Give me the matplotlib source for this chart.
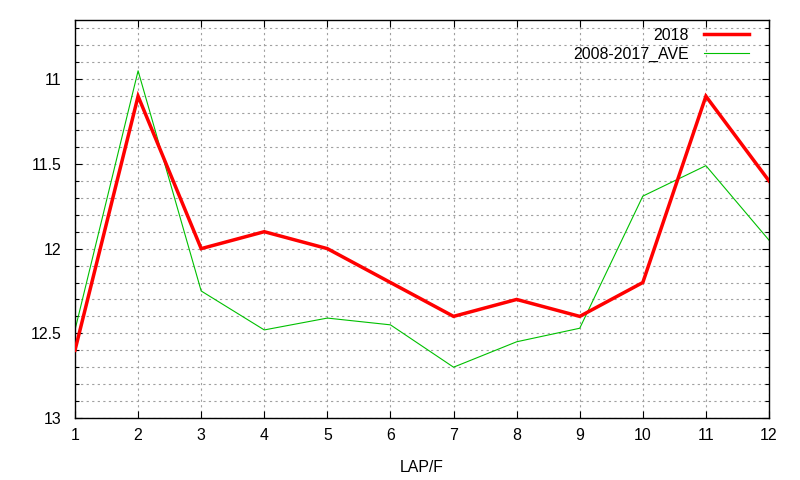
import matplotlib
matplotlib.use("Agg")
import matplotlib.pyplot as plt
from matplotlib.ticker import MultipleLocator, FuncFormatter

plt.rcParams['font.family'] = ['Liberation Sans', 'DejaVu Sans']

laps = [1, 2, 3, 4, 5, 6, 7, 8, 9, 10, 11, 12]
y2018 = [12.6, 11.1, 12.0, 11.9, 12.0, 12.2, 12.4, 12.3, 12.4, 12.2, 11.1, 11.6]
yave = [12.48, 10.95, 12.25, 12.48, 12.41, 12.45, 12.70, 12.55, 12.47, 11.69, 11.51, 11.95]

fs = 11.4
fig = plt.figure(figsize=(8, 4.8), dpi=100)
ax = fig.add_axes([75/800, 1-418/480, (769-75)/800, (418-20)/480])

ax.plot(laps, y2018, color='#ff0000', lw=2.5, label='2018', solid_joinstyle='miter', zorder=3)
ax.plot(laps, yave, color='#00c000', lw=0.8, label='2008-2017_AVE', zorder=2)

ax.set_xlim(1, 12)
ax.set_ylim(13, 10.65)
ax.xaxis.set_major_locator(MultipleLocator(1))
ax.yaxis.set_major_locator(MultipleLocator(0.5))
ax.yaxis.set_minor_locator(MultipleLocator(0.1))
ax.yaxis.set_major_formatter(FuncFormatter(lambda v, p: f"{v:g}"))

ax.grid(True, which='both', color='#a0a0a0', linestyle=(0, (2, 3)), lw=0.8)
ax.tick_params(which='both', direction='in', top=True, right=True, labelsize=fs, colors='black')
ax.tick_params(which='major', length=5, width=0.8)
ax.tick_params(axis='y', which='major', pad=9.5)
ax.tick_params(axis='x', which='major', pad=7.5)
ax.tick_params(which='minor', length=3, width=0.8)
for s in ax.spines.values():
    s.set_linewidth(1.0)

ax.set_xlabel('LAP/F', fontsize=fs, labelpad=12)

leg = ax.legend(loc='upper right', frameon=False, markerfirst=False, fontsize=fs,
                handlelength=2.9, borderaxespad=0.0, labelspacing=0.25, handletextpad=0.95,
                bbox_to_anchor=(0.981, 0.997))

fig.savefig('out.png', dpi=100)
